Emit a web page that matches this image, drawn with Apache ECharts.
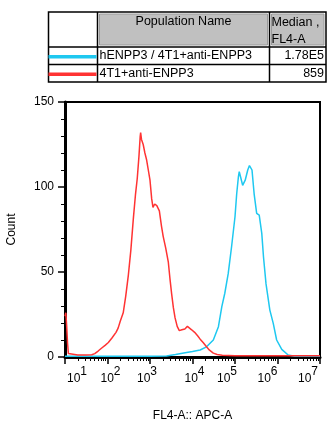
<!DOCTYPE html>
<html><head><meta charset="utf-8">
<script src="https://cdn.jsdelivr.net/npm/echarts@6/dist/echarts.min.js"></script>
<style>html,body{margin:0;padding:0;background:#fff}#c{width:336px;height:434px}</style>
</head><body><div id="c"></div>
<script>
// ---- data ----
const populationNames = ['hENPP3 / 4T1+anti-ENPP3', '4T1+anti-ENPP3'];
const medians = ['1.78E5', '859'];
const seriesColors = ['#1ec8f0', '#ff3333'];
const xTickExponents = [1, 2, 3, 4, 5, 6, 7];
const yTicks = [0, 50, 100, 150];

// red: 4T1+anti-ENPP3 (x in log10 units of FL4-A)
const redLog = [1.00,1.02,1.04,1.06,1.08,1.10,1.30,1.50,1.63,1.70,1.78,1.85,1.95,2.02,2.10,2.20,2.25,2.30,2.37,2.43,2.49,2.55,2.61,2.66,2.70,2.74,2.77,2.78,2.80,2.84,2.88,2.92,2.96,3.00,3.04,3.07,3.11,3.16,3.22,3.27,3.31,3.37,3.43,3.47,3.51,3.55,3.59,3.64,3.69,3.75,3.82,3.88,3.93,3.98,4.05,4.12,4.18,4.25,4.33,4.40,4.49,4.58,4.70,5.00,6.00,7.00];
const redCount = [24,26,18,8,2,1.2,1.2,1.2,1.3,2,3.5,5,7,8.5,11,14.5,17,21,26,36,48,63,82,96,105,118,130,132,128,125,120,116,110,104,93,88,90,89,86,77,71,64,56,46,37,29,23,18,15.5,16,16.5,18,17,16,14.5,12.5,10.5,8.5,6,4,2.3,1.5,1,0.8,0.7,0.7];

// cyan: hENPP3 / 4T1+anti-ENPP3
const cyanLog = [1.00,2.00,3.00,3.39,3.60,3.86,4.00,4.18,4.33,4.49,4.61,4.69,4.76,4.84,4.92,5.00,5.04,5.08,5.10,5.13,5.18,5.24,5.30,5.34,5.37,5.40,5.45,5.51,5.57,5.63,5.67,5.73,5.82,5.90,5.98,6.10,6.25,6.40,7.00];
const cyanCount = [0.5,0.5,0.5,0.6,1.5,2.7,3.3,4.1,6,10,17.8,29.6,37.5,49,65,82.5,96,106,109,106,101,104,110,112.6,112,110,96,84.5,83.5,72.7,59,43,27.6,19.8,10,4.5,1.2,0.5,0.5];

// ---- style: horizontal shift (px) of each x tick label relative to being centred on its tick ----
const labelShiftPx = [12, 3, -3, 2, -8, -10, -12];

// ---- build ----
const toPairs = (xs, ys) => xs.map((x, i) => [x, ys[i]]);
const minorTickValues = [];
for (let n = xTickExponents[0]; n < xTickExponents[xTickExponents.length - 1]; n++) {
  for (let k = 2; k <= 9; k++) minorTickValues.push(n + Math.log10(k));
}
const FONT = 'Liberation Sans';
const rich = {};
labelShiftPx.forEach((d, i) => {
  rich['b' + i] = {fontSize: 12, fontFamily: FONT, color: '#000', lineHeight: 26, verticalAlign: 'middle',
    padding: [0, 0, 0, d > 0 ? 2 * d : 0]};
  rich['s' + i] = {fontSize: 12, fontFamily: FONT, color: '#000', lineHeight: 12, verticalAlign: 'top',
    padding: [0, d < 0 ? -2 * d : 0, 0, 0]};
});

const chart = echarts.init(document.getElementById('c'), null, {renderer: 'canvas'});

// table geometry
const tL = 48.5, tC1 = 97.5, tC2 = 269.5, tR = 326, tT = 12, tH = 47, tR1 = 64.5, tB = 82;
const rowMid = [(tH + tR1) / 2, (tR1 + tB) / 2];
const graphics = [
  {type: 'rect', shape: {x: tL, y: tT, width: tR - tL, height: tB - tT}, style: {fill: '#fff', stroke: '#000', lineWidth: 1.5}},
  {type: 'rect', shape: {x: tC1 + 2, y: tT + 2, width: tC2 - tC1 - 4, height: tH - tT - 4}, style: {fill: '#c0c0c0', stroke: '#9a9a9a', lineWidth: 1}},
  {type: 'rect', shape: {x: tC2 + 2, y: tT + 2, width: tR - tC2 - 4, height: tH - tT - 4}, style: {fill: '#c0c0c0', stroke: '#9a9a9a', lineWidth: 1}},
  {type: 'line', shape: {x1: tC1, y1: tT, x2: tC1, y2: tB}, style: {stroke: '#000', lineWidth: 1.5}},
  {type: 'line', shape: {x1: tC2, y1: tT, x2: tC2, y2: tB}, style: {stroke: '#000', lineWidth: 1.5}},
  {type: 'line', shape: {x1: tL, y1: tH, x2: tR, y2: tH}, style: {stroke: '#000', lineWidth: 1.5}},
  {type: 'line', shape: {x1: tL, y1: tR1, x2: tR, y2: tR1}, style: {stroke: '#000', lineWidth: 1.5}},
  {type: 'text', x: (tC1 + tC2) / 2, y: 22, style: {text: 'Population Name', font: '12.5px ' + FONT, fill: '#000', align: 'center', verticalAlign: 'middle'}},
  {type: 'text', x: tC2 + 2, y: 22.5, style: {text: 'Median ,', font: '12.5px ' + FONT, fill: '#000', align: 'left', verticalAlign: 'middle'}},
  {type: 'text', x: tC2 + 2, y: 40, style: {text: 'FL4-A', font: '12.5px ' + FONT, fill: '#000', align: 'left', verticalAlign: 'middle'}}
];
populationNames.forEach((name, i) => {
  graphics.push({type: 'line', shape: {x1: tL, y1: rowMid[i] + 1, x2: tC1 - 1, y2: rowMid[i] + 1}, style: {stroke: seriesColors[i], lineWidth: 3.5}});
  graphics.push({type: 'text', x: tC1 + 2, y: rowMid[i], style: {text: name, font: '12.5px ' + FONT, fill: '#000', align: 'left', verticalAlign: 'middle'}});
  graphics.push({type: 'text', x: tR - 2, y: rowMid[i], style: {text: medians[i], font: '12.5px ' + FONT, fill: '#000', align: 'right', verticalAlign: 'middle'}});
});

const option = {
  animation: false,
  backgroundColor: '#fff',
  textStyle: {fontFamily: FONT},
  grid: {left: 65, right: 16, top: 102, bottom: 77, containLabel: false, outerBoundsMode: 'none',
         show: true, borderColor: '#000', borderWidth: 2, backgroundColor: 'transparent'},
  xAxis: [
    {
      type: 'value', min: 1, max: 7, interval: 1, position: 'bottom',
      name: 'FL4-A:: APC-A', nameLocation: 'middle', nameGap: 53, nameMoveOverlap: false,
      nameTextStyle: {fontSize: 12, color: '#000', fontFamily: FONT},
      axisLine: {show: true, lineStyle: {color: '#000', width: 3}},
      axisTick: {show: true, length: 7, lineStyle: {color: '#000', width: 1.5}},
      splitLine: {show: false},
      axisLabel: {
        interval: 0, margin: 9, color: '#000', showMinLabel: true, showMaxLabel: true, hideOverlap: false,
        overflow: 'none',
        formatter: v => {
          const i = xTickExponents.indexOf(v);
          return '{b' + i + '|10}{s' + i + '|' + xTickExponents[i] + '}';
        },
        rich: rich
      }
    },
    {
      type: 'value', min: 1, max: 7, position: 'bottom',
      axisLine: {show: false}, axisLabel: {show: false}, splitLine: {show: false},
      axisTick: {show: true, length: 4, customValues: minorTickValues, lineStyle: {color: '#000', width: 1}}
    }
  ],
  yAxis: {
    type: 'value', min: yTicks[0], max: yTicks[yTicks.length - 1], interval: 50,
    name: 'Count', nameLocation: 'middle', nameGap: 47,
    nameTextStyle: {fontSize: 12, color: '#000', fontFamily: FONT},
    axisLine: {show: true, lineStyle: {color: '#000', width: 3}},
    axisTick: {show: true, length: 7, lineStyle: {color: '#000', width: 1.5}},
    minorTick: {show: true, splitNumber: 5, length: 4, lineStyle: {color: '#000', width: 1}},
    splitLine: {show: false},
    axisLabel: {fontSize: 12, color: '#000', margin: 11, fontFamily: FONT}
  },
  series: [
    {name: populationNames[1], type: 'line', data: toPairs(redLog, redCount), showSymbol: false, symbol: 'none',
     lineStyle: {color: seriesColors[1], width: 1.5}, z: 3},
    {name: populationNames[0], type: 'line', data: toPairs(cyanLog, cyanCount), showSymbol: false, symbol: 'none',
     lineStyle: {color: seriesColors[0], width: 1.5}, z: 2}
  ],
  graphic: graphics
};
chart.setOption(option);
</script></body></html>
